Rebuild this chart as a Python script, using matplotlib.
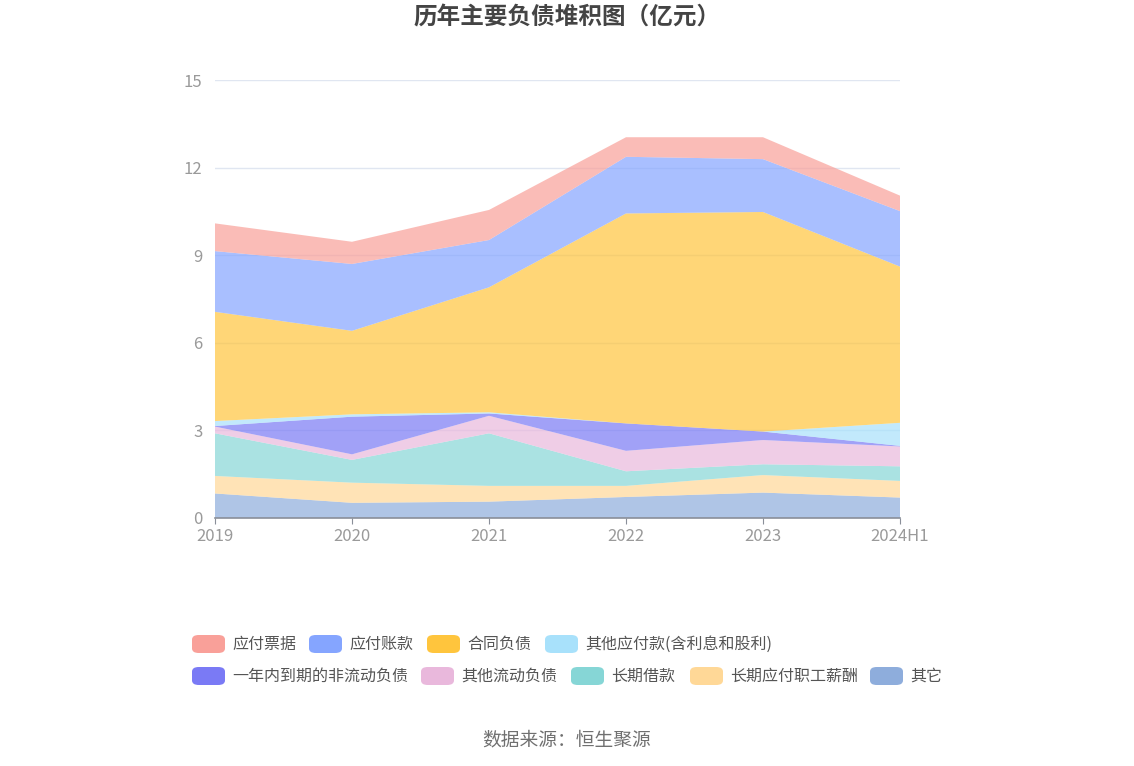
import numpy as np
import matplotlib
matplotlib.use("Agg")
import matplotlib.pyplot as plt
from matplotlib.patches import FancyBboxPatch

plt.rcParams['font.family'] = ['Noto Sans CJK SC', 'DejaVu Sans']

# --- data (亿元) ---
years = ["2019", "2020", "2021", "2022", "2023", "2024H1"]

qita = [0.84, 0.52, 0.56, 0.72, 0.87, 0.70]            # 其它
chang_qi_xinchou = [0.60, 0.69, 0.54, 0.38, 0.60, 0.57]  # 长期应付职工薪酬
chang_qi_jiekuan = [1.46, 0.78, 1.80, 0.50, 0.37, 0.50]  # 长期借款
qita_liudong = [0.23, 0.19, 0.60, 0.70, 0.83, 0.68]      # 其他流动负债
yinian_daoqi = [0.02, 1.29, 0.08, 0.94, 0.29, 0.02]      # 一年内到期的非流动负债
qita_yingfu = [0.17, 0.08, 0.04, 0.00, 0.00, 0.79]       # 其他应付款(含利息和股利)
hetong = [3.74, 2.86, 4.28, 7.19, 7.52, 5.35]            # 合同负债
yingfu_zhangkuan = [2.08, 2.29, 1.62, 1.94, 1.81, 1.90]  # 应付账款
yingfu_piaoju = [0.95, 0.76, 1.03, 0.67, 0.75, 0.53]     # 应付票据

# bottom to top
series = [qita, chang_qi_xinchou, chang_qi_jiekuan, qita_liudong, yinian_daoqi,
          qita_yingfu, hetong, yingfu_zhangkuan, yingfu_piaoju]
names = ["其它", "长期应付职工薪酬", "长期借款", "其他流动负债", "一年内到期的非流动负债",
         "其他应付款(含利息和股利)", "合同负债", "应付账款", "应付票据"]
colors = ["#8eaddc", "#ffd897", "#86d6d6", "#e9b8dc", "#7a7af5",
          "#a8e1fb", "#ffc53d", "#85a5ff", "#f9a099"]

W, H = 1134, 766
fig = plt.figure(figsize=(W / 100, H / 100), dpi=100)
ax = fig.add_axes([215 / W, 1 - 518 / H, 685 / W, 438 / H])

x = np.arange(len(years))
ax.stackplot(x, *series, colors=colors, alpha=0.7, linewidth=0)

ax.set_xlim(0, len(years) - 1)
ax.set_ylim(0, 15)
ax.set_yticks([0, 3, 6, 9, 12, 15])
ax.set_xticks(x)
ax.set_xticklabels(years)
ax.grid(axis='y', color='#e0e6f1', linewidth=1)
ax.set_axisbelow(True)
for s in ['top', 'right', 'left']:
    ax.spines[s].set_visible(False)
ax.spines['bottom'].set_color('#8a8f99')
ax.spines['bottom'].set_linewidth(1.2)
ax.tick_params(axis='y', length=0, pad=9, labelsize=12, labelcolor='#9a9a9a')
ax.tick_params(axis='x', length=4, color='#8a8f99', pad=3, labelsize=12, labelcolor='#9a9a9a')

# title and source
fig.text(0.5, 1 - 18 / H, "历年主要负债堆积图（亿元）", ha='center', va='center',
         fontsize=17, fontweight='bold', color='#444444')
fig.text(567 / W, 1 - 740 / H, "数据来源：恒生聚源", ha='center', va='center',
         fontsize=13.5, color='#707070')

# legend, laid out like the reference (two rows, flowing left to right)
legend_rows = [
    [("应付票据", 192), ("应付账款", 309), ("合同负债", 427), ("其他应付款(含利息和股利)", 545)],
    [("一年内到期的非流动负债", 192), ("其他流动负债", 421), ("长期借款", 571),
     ("长期应付职工薪酬", 690), ("其它", 870)],
]
row_y = [644, 676]
for row, yc in zip(legend_rows, row_y):
    for name, px in row:
        c = colors[names.index(name)]
        box = FancyBboxPatch((px / W, 1 - (yc + 9) / H), 33 / W, 18 / H,
                             boxstyle="round,pad=0,rounding_size=0.006",
                             transform=fig.transFigure, facecolor=c, edgecolor='none')
        fig.patches.append(box)
        fig.text((px + 40) / W, 1 - yc / H, name, ha='left', va='center',
                 fontsize=11.5, color='#555555')

fig.savefig("out.png", dpi=100)
